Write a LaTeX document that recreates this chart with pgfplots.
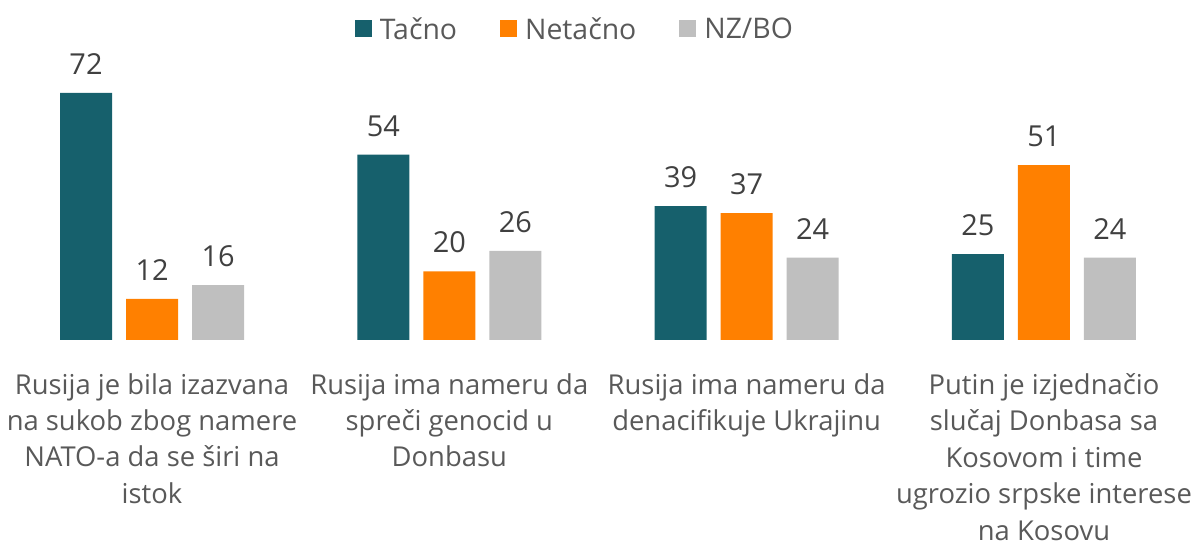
\documentclass[border=0pt]{standalone}
\usepackage{pgfplots}
\pgfplotsset{compat=1.18}
\usepackage{fontspec}
\setmainfont{Open Sans}
\definecolor{cteal}{HTML}{16606C}
\definecolor{corange}{HTML}{FF8000}
\definecolor{cgray}{HTML}{BFBFBF}
\definecolor{ctext}{HTML}{595959}
\definecolor{cnum}{HTML}{404040}
\begin{document}
\begin{tikzpicture}[x=1bp,y=1bp]
\path[use as bounding box] (0,0) rectangle (1193,547);
\begin{axis}[at={(0bp,207bp)}, anchor=south west, scale only axis,
  width=1193bp, height=340bp,
  xmin=-0.5113, xmax=3.5013, ymin=0, ymax=99.1,
  ybar=14bp, bar width=52bp,
  axis line style={draw=none}, ytick=\empty, xtick={0,1,2,3}, major tick length=0pt,
  xticklabels={{Rusija je bila izazvana\\na sukob zbog namere\\NATO-a da se širi na\\istok},
    {Rusija ima nameru da\\spreči genocid u\\Donbasu},
    {Rusija ima nameru da\\denacifikuje Ukrajinu},
    {Putin je izjednačio\\slučaj Donbasa sa\\Kosovom i time\\ugrozio srpske interese\\na Kosovu}},
  xticklabel style={align=center, font=\fontsize{27.5}{36.6}\selectfont, text=ctext, anchor=north, inner sep=0pt, yshift=-33bp},
  nodes near coords,
  nodes near coords style={font=\fontsize{29}{32}\selectfont, text=cnum, anchor=south, inner sep=0pt, yshift=18bp, /pgf/number format/assume math mode=true},
  legend columns=3,
  legend style={at={(0.481,0.915)}, anchor=center, draw=none, fill=none,
    font=\fontsize{28.5}{30}\selectfont, text=ctext, nodes={inner sep=0pt},
    /tikz/every odd column/.append style={column sep=8bp},
    /tikz/every even column/.append style={column sep=43bp}},
]
\addplot[fill=cteal, draw=none, legend image code/.code={\fill[cteal] (0bp,-8.5bp) rectangle (17bp,8.5bp);}] coordinates {(0,72) (1,54) (2,39) (3,25)};
\addplot[fill=corange, draw=none, legend image code/.code={\fill[corange] (0bp,-8.5bp) rectangle (17bp,8.5bp);}] coordinates {(0,12) (1,20) (2,37) (3,51)};
\addplot[fill=cgray, draw=none, legend image code/.code={\fill[cgray] (0bp,-8.5bp) rectangle (17bp,8.5bp);}] coordinates {(0,16) (1,26) (2,24) (3,24)};
\legend{Tačno, Netačno, NZ/BO}
\end{axis}
\end{tikzpicture}
\end{document}
